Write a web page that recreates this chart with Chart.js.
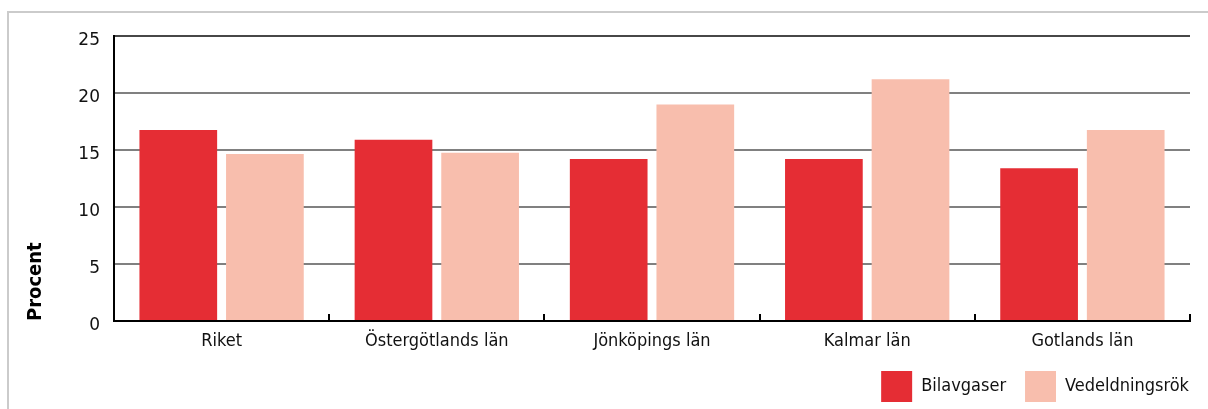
<!DOCTYPE html>
<html lang="sv">
<head>
<meta charset="utf-8">
<title>Bilavgaser och vedeldningsrök</title>
<script src="https://cdn.jsdelivr.net/npm/chart.js@4/dist/chart.umd.min.js"></script>
<style>
  html, body { margin: 0; padding: 0; background: #fff; overflow: hidden; }
  #frame {
    position: absolute; left: 7px; top: 11px; width: 1400px; height: 600px;
    border-left: 2px solid #cbcbcb; border-top: 2px solid #cbcbcb;
  }
  #wrap { position: absolute; left: 0; top: 0; width: 1208px; height: 409px; }
</style>
</head>
<body>
<div id="frame"></div>
<div id="wrap"><canvas id="chart"></canvas></div>
<script>
// Andel (%) som besväras av bilavgaser resp. vedeldningsrök
const categories = ['Riket', 'Östergötlands län', 'Jönköpings län', 'Kalmar län', 'Gotlands län'];
const bilavgaser = [16.75, 15.9, 14.2, 14.2, 13.4];
const vedeldningsrok = [14.65, 14.75, 19.0, 21.2, 16.75];
const seriesNames = ['Bilavgaser', 'Vedeldningsrök'];
const yTicks = [0, 5, 10, 15, 20, 25];

const FONT = '"DejaVu Sans Condensed", "DejaVu Sans", sans-serif';
const RED = '#e52d34';
const PINK = '#f8bead';

const ctx = document.getElementById('chart');
new Chart(ctx, {
  type: 'bar',
  data: {
    labels: categories,
    datasets: [
      { label: seriesNames[0], data: bilavgaser, backgroundColor: RED },
      { label: seriesNames[1], data: vedeldningsrok, backgroundColor: PINK }
    ]
  },
  options: {
    responsive: true,
    maintainAspectRatio: false,
    animation: false,
    categoryPercentage: 0.805,
    barPercentage: 0.897,
    // legend's lower padding may hang below the canvas edge
    layout: { padding: { left: 8, top: 36, right: 0, bottom: -3 } },
    plugins: {
      legend: {
        position: 'bottom',
        align: 'end',
        labels: {
          boxWidth: 31,
          boxHeight: 31,
          padding: 19,
          color: '#111',
          font: { family: FONT, size: 18 }
        }
      },
      tooltip: { enabled: false }
    },
    scales: {
      x: {
        grid: {
          drawOnChartArea: false,
          drawTicks: true,
          tickLength: -7,
          color: '#000',
          lineWidth: 2
        },
        border: { display: true, color: '#000', width: 2 },
        ticks: {
          color: '#111',
          padding: 17,
          font: { family: FONT, size: 18 }
        },
        afterFit: (scale) => { scale.height = 31; }
      },
      y: {
        min: 0,
        max: 25,
        afterBuildTicks: (scale) => { scale.ticks = yTicks.map(v => ({ value: v })); },
        grid: {
          drawTicks: false,
          lineWidth: 2,
          color: (c) => (c.tick && c.tick.value === 25 ? '#474747' : '#808080')
        },
        border: { display: true, color: '#000', width: 2 },
        ticks: {
          color: '#111',
          padding: 14,
          labelOffset: 5,
          font: { family: '"DejaVu Sans", sans-serif', size: 17 }
        },
        title: {
          display: true,
          text: 'Procent',
          align: 'start',
          color: '#000',
          padding: { top: 16, bottom: 0 },
          font: { family: FONT, size: 20, weight: 'bold' }
        },
        afterFit: (scale) => { scale.width = 106; }
      },
      // empty right-hand axis that keeps the plot clear of the right edge
      yRight: {
        position: 'right',
        display: true,
        grid: { display: false },
        border: { display: false },
        ticks: { display: false },
        afterFit: (scale) => { scale.width = 18; }
      }
    }
  }
});
</script>
</body>
</html>
